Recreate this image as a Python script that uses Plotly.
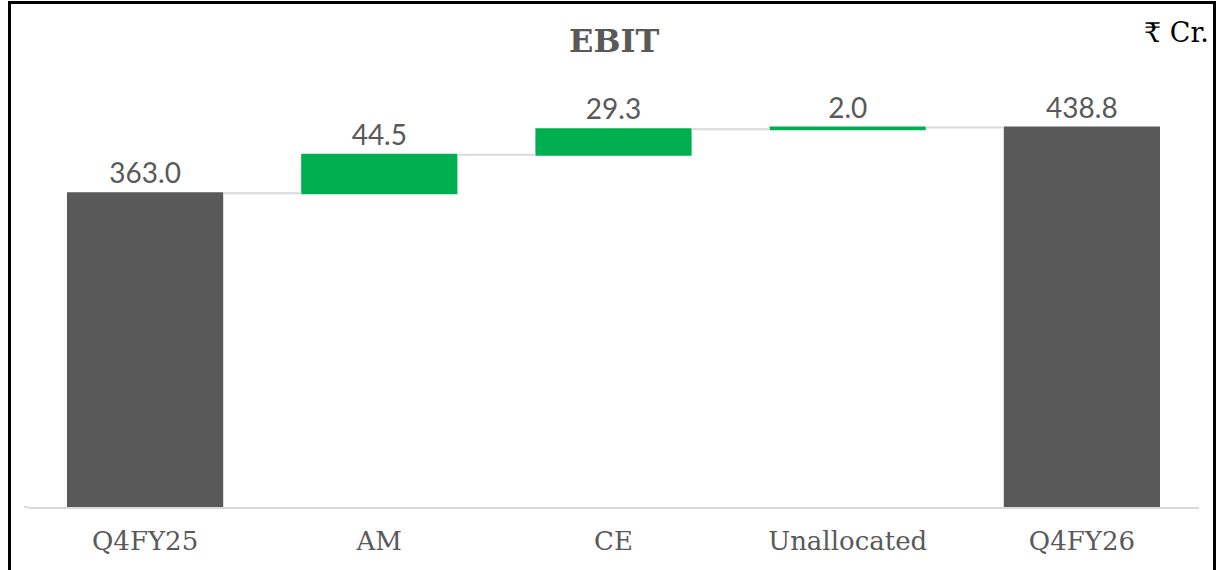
import plotly.graph_objects as go

categories = ["Q4FY25", "AM", "CE", "Unallocated", "Q4FY26"]
values = [363.0, 44.5, 29.3, 2.0, 438.8]
measures = ["absolute", "relative", "relative", "relative", "total"]
labels = ["363.0", "44.5", "29.3", "2.0", "438.8"]

W, H = 1217, 570
L, R, T, B = 28, 18, 60, 63
pw, ph = W - L - R, H - T - B
ymax = 517

def px_x(p):
    return (p - L) / pw

def px_y(p):
    return (H - B - p) / ph

fig = go.Figure(go.Waterfall(
    x=categories,
    y=[0 if m == "total" else v for v, m in zip(values, measures)],
    measure=measures,
    text=labels,
    textposition="outside",
    textfont=dict(family="Lato, Open Sans, sans-serif", size=28, color="#595959"),
    cliponaxis=False,
    increasing=dict(marker=dict(color="#00B050")),
    decreasing=dict(marker=dict(color="#C00000")),
    totals=dict(marker=dict(color="#595959")),
    connector=dict(line=dict(color="#D9D9D9", width=2)),
    hoverinfo="skip",
))

fig.update_layout(
    width=W, height=H,
    margin=dict(l=L, r=R, t=T, b=B),
    paper_bgcolor="white", plot_bgcolor="white",
    showlegend=False,
    waterfallgap=0.333,
    xaxis=dict(showline=True, linecolor="#D9D9D9", linewidth=2, showgrid=False,
               ticks="", tickfont=dict(family="DejaVu Serif, serif", size=26, color="#595959"),
               ticklabelstandoff=10, fixedrange=True),
    yaxis=dict(range=[0, ymax], visible=False, showgrid=False, zeroline=False, fixedrange=True),
    annotations=[
        dict(text="<b>EBIT</b>", xref="paper", yref="paper", x=0.5, y=px_y(41),
             xanchor="center", yanchor="middle", showarrow=False,
             font=dict(family="DejaVu Serif, serif", size=32, color="#595959")),
        dict(text="₹ Cr.", xref="paper", yref="paper", x=px_x(1211), y=px_y(33),
             xanchor="right", yanchor="middle", showarrow=False,
             font=dict(family="DejaVu Serif, Liberation Serif, serif", size=27, color="#000000")),
    ],
    shapes=[
        dict(type="rect", xref="paper", yref="paper",
             x0=px_x(9.5), x1=px_x(1214.5), y0=px_y(590), y1=px_y(2.5),
             line=dict(color="#000000", width=3), fillcolor="rgba(0,0,0,0)", layer="above"),
        dict(type="line", xref="paper", yref="paper",
             x0=px_x(24), x1=px_x(28), y0=0, y1=0,
             line=dict(color="#D9D9D9", width=2)),
    ],
)

fig.write_html("out.html", config={"displayModeBar": False},
               post_script="document.body.style.margin='0';")
